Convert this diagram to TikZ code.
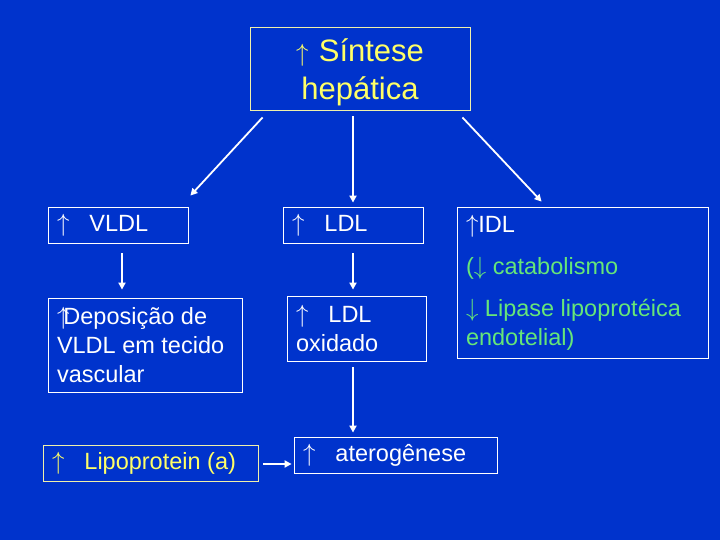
\documentclass[tikz,border=0pt]{standalone}
\usepackage{fontspec}
\setmainfont{Liberation Sans}
\usetikzlibrary{arrows.meta}
\definecolor{slideblue}{RGB}{0,51,204}
\definecolor{slideyellow}{RGB}{255,255,102}
\definecolor{paleyellow}{RGB}{240,240,170}
\definecolor{slidegreen}{RGB}{102,230,120}
\newcommand{\up}{$\uparrow$}
\newcommand{\down}{$\downarrow$}
\tikzset{
  box/.style={draw=white, line width=0.8pt, text=white, inner xsep=9pt, inner ysep=0pt,
    align=flush left, font=\fontsize{23.5}{29}\selectfont},
  flow/.style={draw=white, line width=1.8pt, -{Triangle[length=7pt,width=7pt]}}
}
\begin{document}
\begin{tikzpicture}[x=1pt,y=-1pt]

      \fill[slideblue] (0,0) rectangle (720,540);
      \useasboundingbox (0,0) rectangle (720,540);

      \begin{scope}[every node/.style={box}]
        \node[draw=paleyellow, text=slideyellow, align=center, text width=202pt, minimum height=83pt,
          font=\fontsize{31}{38}\selectfont] (synth) at (360,68.5) {\rule{0pt}{30pt}\up\ Síntese\\hepática};
        \node[text width=122pt, minimum height=36pt] (vldl) at (118,225) {\up\hspace{20pt}VLDL};
        \node[text width=122pt, minimum height=36pt] (ldl) at (353,225) {\up\hspace{20pt}LDL};
        \node[text width=233pt, minimum height=151pt] (idl) at (582.5,282.5)
          {\up IDL\\[13pt]\textcolor{slidegreen}{(\down\ catabolismo}\\[13pt]\textcolor{slidegreen}{\down\ Lipase lipoprotéica}\\\textcolor{slidegreen}{endotelial)}};
        \node[text width=176pt, minimum height=94pt] (depo) at (145,345)
          {\up\hspace{-6pt}Deposição de\\VLDL em tecido\\vascular};
        \node[text width=121pt, minimum height=65pt] (oxid) at (356.5,328.5) {\up\hspace{20pt}LDL\\oxidado};
        \node[draw=paleyellow, text=slideyellow, text width=197pt, minimum height=36pt] (lipo) at (150.5,463)
          {\up\hspace{20pt}Lipoprotein (a)};
        \node[text width=185pt, minimum height=36pt] (aterog) at (395.5,455) {\up\hspace{20pt}aterogênese};
      \end{scope}

      \begin{scope}[every edge/.style={flow}]
        \path ([xshift=13pt,yshift=-7pt]synth.south west) edge ([xshift=2pt,yshift=11pt]vldl.north east);
        \path ([yshift=-6pt]synth.south -| ldl.north) edge ([yshift=4pt]ldl.north);
        \path ([xshift=-8pt,yshift=-7pt]synth.south east) edge ([xshift=85pt,yshift=5pt]idl.north west);
        \path ([xshift=4pt,yshift=-10pt]vldl.south) edge ([xshift=4pt,yshift=8pt]vldl.south |- depo.north);
        \path ([yshift=-10pt]ldl.south) edge ([yshift=6pt]ldl.south |- oxid.north);
        \path ([xshift=-3.5pt,yshift=-6pt]oxid.south) edge ([xshift=-3.5pt,yshift=4pt]oxid.south |- aterog.north);
        \path ([xshift=5pt,yshift=-1pt]lipo.east) edge ([xshift=-2pt,yshift=-1pt]lipo.east -| aterog.west);
      \end{scope}

    \end{tikzpicture}
\end{document}
